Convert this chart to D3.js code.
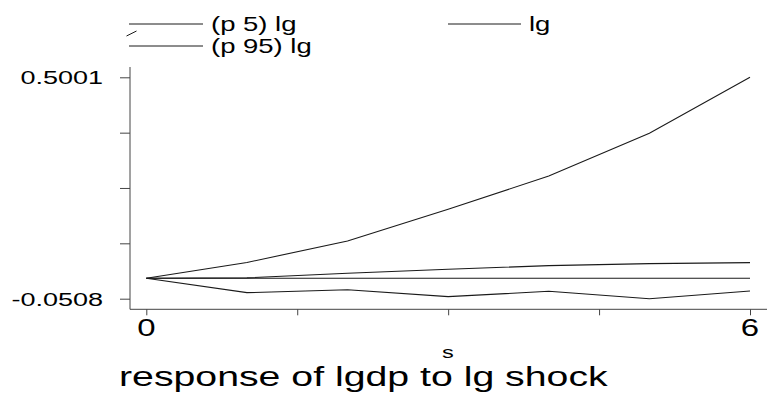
<!DOCTYPE html>
<html><head><meta charset="utf-8">
<script src="https://cdn.jsdelivr.net/npm/d3@7"></script>
<style>body{margin:0;background:#fff}svg{display:block}text{font-family:"Liberation Sans",Arial,sans-serif;fill:#000}</style>
</head><body>
<svg id="c" width="767" height="401"></svg>
<script>
const steps = [0, 1, 2, 3, 4, 5, 6];
const p95 = [0, 0.0393, 0.0928, 0.1717, 0.2545, 0.3608, 0.5001];
const lg  = [0, 0.0010, 0.0124, 0.0224, 0.0315, 0.0365, 0.0390];
const p5  = [0, -0.0357, -0.0285, -0.0456, -0.0323, -0.0508, -0.0318];
const zeroLine = [0, 0, 0, 0, 0, 0, 0];
const yTickVals = [-0.0508, 0.08698, 0.22475, 0.36233, 0.5001];
const yTickLabels = ["-0.0508", "", "", "", "0.5001"];
const xTickVals = [0, 1.5, 3, 4.5, 6];
const xTickLabels = ["0", "", "", "", "6"];
const legendLabels = ["(p 5) lg", "(p 95) lg", "lg"];
const xTitle = "s";
const title = "response of lgdp to lg shock";

const SX = 1.42; // horizontal stretch of the original text
const K = 1.57 / SX;
const svg = d3.select("#c");
const x = d3.scaleLinear().domain([0, 6]).range([146.3, 750]);
const y = d3.scaleLinear().domain([-0.0508, 0.5001]).range([298.7, 77.3]);
const axisColor = "#444";

function stext(px, py, str, size, anchor) {
  svg.append("text")
    .attr("transform", `translate(${px},${py}) scale(${SX},1)`)
    .attr("text-anchor", anchor || "start")
    .style("font-size", (size * K) + "px")
    .text(str);
}

// y axis
const yAxis = d3.axisLeft(y).tickValues(yTickVals).tickSize(10).tickFormat(() => "");
const gy = svg.append("g").attr("transform", "translate(130,0)").call(yAxis);
gy.select(".domain").remove();
gy.selectAll(".tick line").attr("stroke", axisColor);
svg.append("line").attr("x1", 130).attr("x2", 130).attr("y1", 67).attr("y2", 309.3)
  .attr("stroke", axisColor).attr("stroke-width", 1);
yTickVals.forEach((v, i) => {
  if (yTickLabels[i]) stext(103, y(v) + 7, yTickLabels[i], 17.2, "end");
});

// x axis
const xAxis = d3.axisBottom(x).tickValues(xTickVals).tickSize(6).tickFormat(() => "");
const gx = svg.append("g").attr("transform", "translate(0,309.3)").call(xAxis);
gx.select(".domain").remove();
gx.selectAll(".tick line").attr("stroke", axisColor);
svg.append("line").attr("x1", 130).attr("x2", 767).attr("y1", 309.3).attr("y2", 309.3)
  .attr("stroke", axisColor).attr("stroke-width", 1);
xTickVals.forEach((v, i) => {
  if (xTickLabels[i]) stext(x(v), 335.5, xTickLabels[i], 21, "middle");
});

// lines
const line = d3.line().x((d, i) => x(steps[i])).y(d => y(d));
[zeroLine, p5, p95, lg].forEach(s => {
  svg.append("path").datum(s).attr("d", line).attr("fill", "none")
    .attr("stroke", "#1a1a1a").attr("stroke-width", 1.1);
});

// legend
const leg = svg.append("g");
leg.append("line").attr("x1", 129).attr("x2", 203).attr("y1", 24).attr("y2", 24).attr("stroke", "#1a1a1a");
leg.append("line").attr("x1", 126.5).attr("x2", 136.5).attr("y1", 36).attr("y2", 31).attr("stroke", "#1a1a1a");
leg.append("line").attr("x1", 129).attr("x2", 203).attr("y1", 46).attr("y2", 46).attr("stroke", "#1a1a1a");
leg.append("line").attr("x1", 448).attr("x2", 521).attr("y1", 24).attr("y2", 24).attr("stroke", "#1a1a1a");
stext(211, 31, legendLabels[0], 17.5);
stext(211, 52.5, legendLabels[1], 17.5);
stext(529, 31, legendLabels[2], 17.5);

// titles
stext(448, 358, xTitle, 15, "middle");
stext(119, 385.5, title, 25);
</script>
</body></html>
